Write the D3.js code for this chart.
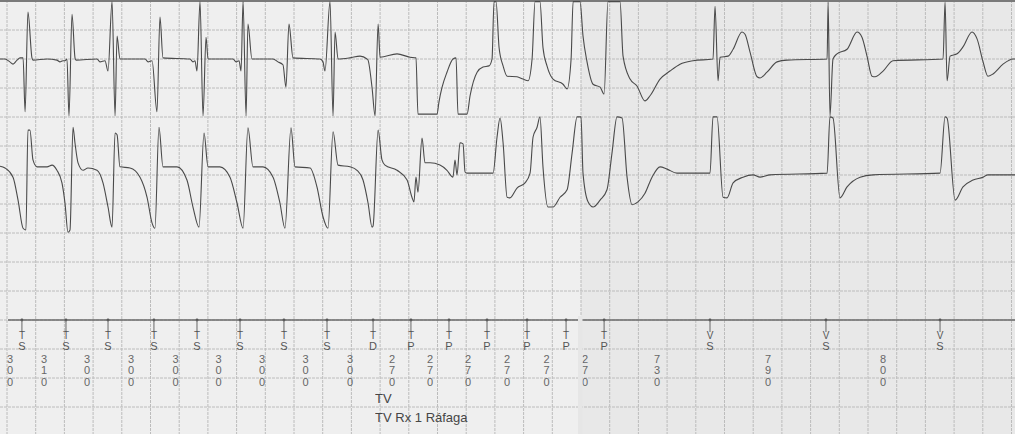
<!DOCTYPE html>
<meta charset="utf-8">
<style>
body { margin: 0; background: #eeeeee; }
svg { display: block; }
.grid line { stroke: #bcbcbc; stroke-width: 1; stroke-dasharray: 3,1; }
.trace { fill: none; stroke: #4a4a4a; stroke-width: 1.1; stroke-linejoin: round; }
.txt { opacity: 0.99; }
.mk text { font: 10px "Liberation Sans", Arial, sans-serif; fill: #555; text-anchor: middle; }
.iv text { font: 11px "Liberation Sans", Arial, sans-serif; fill: #666; text-anchor: middle; }
.note { font: 13px "Liberation Sans", Arial, sans-serif; fill: #444; }
</style>
<svg width="1015" height="434"></svg>
<script src="https://d3js.org/d3.v7.min.js"></script>
<script>
// marker channel (ms from strip start)
var markerTimes = [104, 411, 704, 1024, 1324, 1624, 1930, 2230, 2551, 2815, 3080, 3345, 3624, 3896, 4161, 4899, 5707, 6502];
var markerCodes = ["TS","TS","TS","TS","TS","TS","TS","TS","TD","TP","TP","TP","TP","TP","TP","VS","VS","VS"];
var intervals = [300, 310, 300, 300, 300, 300, 300, 300, 300, 270, 270, 270, 270, 270, 270, 730, 790, 800];
var notes = ["TV", "TV Rx 1 Ráfaga"];

// top channel [ms, mV]
var topTrace = [[-49,0],[-14,0],[20,-0.05],[42,-0.09],[70,-0.02],[91,0.02],[112,0.02],[126,-0.92],[146,0.82],[174,0.02],[181,-0.02],[279,0],[348,-0.02],[369,-0.05],[390,-0.03],[404,-0.03],[418,0],[432,-0.99],[453,0.78],[474,0.02],[481,-0.02],[627,0],[648,-0.05],[683,-0.03],[704,-0.21],[732,1.0],[753,-0.99],[767,0.40],[787,0],[962,0],[983,-0.05],[1011,-0.03],[1045,-0.92],[1066,0.73],[1087,0.02],[1275,0],[1296,-0.05],[1310,-0.03],[1324,-0.21],[1345,1.0],[1366,-0.99],[1387,0.38],[1401,0],[1575,0],[1596,-0.05],[1617,-0.03],[1631,-0.21],[1645,1.0],[1666,-0.99],[1679,0.61],[1707,0],[1854,0],[1888,-0.05],[1923,-0.1],[1944,-0.49],[1965,0.61],[1993,0.02],[2181,0],[2202,-0.05],[2216,-0.21],[2251,1.0],[2272,-0.99],[2286,0.47],[2307,0],[2390,0.02],[2460,0.05],[2509,0],[2516,-0.02],[2544,-0.5],[2565,-0.99],[2586,0.61],[2600,0.03],[2718,0.09],[2809,0.03],[2850,0.02],[2864,-0.96],[2997,-0.96],[3010,-0.75],[3031,-0.5],[3066,-0.23],[3108,0],[3129,0.02],[3143,-0.96],[3206,-0.96],[3227,-0.64],[3276,-0.23],[3317,-0.14],[3359,-0.12],[3380,0],[3394,1.0],[3408,1.0],[3429,0.2],[3457,-0.12],[3485,-0.30],[3554,-0.31],[3596,-0.35],[3631,-0.38],[3659,0],[3680,1.0],[3714,1.0],[3735,0.2],[3763,-0.12],[3805,-0.35],[3875,-0.44],[3903,-0.52],[3931,0],[3945,1.0],[3993,1.0],[4014,0.4],[4042,-0.05],[4084,-0.44],[4133,-0.49],[4161,-0.61],[4188,1.0],[4272,1.0],[4293,0.05],[4342,-0.35],[4390,-0.47],[4446,-0.73],[4481,-0.64],[4551,-0.35],[4620,-0.21],[4690,-0.09],[4781,-0.03],[4920,0],[4934,0.92],[4955,-0.38],[4969,0.03],[5025,0.05],[5060,0.17],[5122,0.47],[5143,0.43],[5178,0.12],[5227,-0.31],[5248,-0.33],[5296,-0.23],[5366,-0.05],[5436,-0.02],[5715,0],[5722,0.99],[5735,-0.99],[5756,0],[5784,0.09],[5854,0.17],[5924,0.47],[5958,0.38],[5993,0.05],[6028,-0.30],[6049,-0.31],[6105,-0.21],[6174,-0.03],[6523,0],[6537,0.99],[6551,-0.38],[6572,0.05],[6621,0.09],[6662,0.21],[6725,0.47],[6760,0.35],[6802,-0.05],[6836,-0.30],[6871,-0.26],[6941,-0.09],[7011,0],[7030,0]];

// bottom channel [ms, mV]
var bottomTrace = [[-49,0.10],[-14,0.07],[42,-0.09],[77,-0.49],[112,-0.98],[132,-1.01],[146,0.73],[160,0.73],[181,0.21],[209,0.09],[279,0.09],[314,0.12],[348,0.03],[383,-0.19],[404,-0.54],[425,-1.05],[439,-1.01],[460,0.78],[474,0.50],[495,0.16],[530,0.03],[564,0.07],[627,0.03],[669,-0.19],[704,-0.61],[732,-0.96],[753,0.68],[767,0.65],[787,0.09],[857,0.07],[927,-0.09],[976,-0.44],[1011,-0.89],[1031,-0.98],[1059,0.78],[1087,0.09],[1185,0.09],[1254,-0.14],[1296,-0.61],[1338,-0.96],[1373,0.68],[1401,0.09],[1484,0.09],[1554,-0.09],[1603,-0.54],[1645,-0.98],[1679,0.77],[1714,0.09],[1784,0.09],[1854,-0.09],[1902,-0.54],[1937,-0.98],[1979,0.77],[2007,0.09],[2112,0.07],[2160,-0.26],[2202,-0.78],[2237,-0.98],[2272,0.70],[2307,0.12],[2390,0.09],[2439,0.03],[2481,-0.14],[2516,-0.54],[2544,-0.96],[2551,-0.94],[2586,0.73],[2613,0.21],[2634,0.12],[2718,0.03],[2788,-0.14],[2822,-0.44],[2836,-0.52],[2850,-0.09],[2864,-0.35],[2892,0.59],[2913,0.16],[2948,0.16],[3017,0.12],[3066,0.03],[3108,-0.09],[3122,0.21],[3136,-0.05],[3157,0.51],[3178,0.49],[3192,0],[3206,-0.02],[3387,-0.02],[3415,0.61],[3436,0.94],[3457,0.51],[3485,-0.44],[3505,-0.45],[3554,-0.28],[3610,-0.19],[3645,-0.02],[3666,0.61],[3694,0.78],[3714,0.96],[3735,0.09],[3770,-0.61],[3805,-0.61],[3854,-0.44],[3903,-0.31],[3938,0.33],[3973,0.96],[4000,0.96],[4014,-0.02],[4049,-0.52],[4084,-0.61],[4133,-0.49],[4181,-0.31],[4216,0.33],[4251,0.96],[4286,0.94],[4321,-0.09],[4356,-0.57],[4397,-0.52],[4446,-0.37],[4495,-0.09],[4551,0.09],[4600,0.05],[4669,-0.02],[4899,-0.02],[4920,0.96],[4948,0.96],[4990,-0.44],[5018,-0.45],[5060,-0.19],[5129,-0.09],[5199,-0.05],[5248,-0.09],[5317,-0.05],[5715,-0.02],[5735,0.96],[5756,0.94],[5805,-0.45],[5854,-0.26],[5945,-0.09],[6035,-0.05],[6502,-0.02],[6537,0.96],[6551,0.94],[6607,-0.49],[6662,-0.26],[6732,-0.14],[6802,-0.09],[6836,-0.05],[7030,-0.05]];

var width = 1015, height = 434;
var svg = d3.select("svg");

// 25 mm/s: one big box = 200 ms
var x = d3.scaleLinear().domain([0, 200]).range([7, 35.7]);
// paper in mm, one big box = 5 mm
var yPaper = d3.scaleLinear().domain([0, 5]).range([30, 59]);
// 10 mm/mV
var yTop = d3.scaleLinear().domain([0, 1]).range([yPaper(5), yPaper(5) - 57.4]);
var yBot = d3.scaleLinear().domain([0, 1]).range([172, 172 - 57.4]);
var tSeam = 4000;

// paper
svg.append("rect").attr("width", width).attr("height", height).attr("fill", "#efefef");
svg.append("rect").attr("x", x(tSeam)).attr("width", width - x(tSeam)).attr("height", height).attr("fill", "#e8e8e8");

var grid = svg.append("g").attr("class", "grid");
grid.selectAll(".v").data(d3.range(0, 7200, 200)).enter().append("line")
    .attr("x1", function(d) { return x(d); }).attr("x2", function(d) { return x(d); })
    .attr("y1", 0).attr("y2", height);
grid.selectAll(".h").data(d3.range(-5, 80, 5)).enter().append("line")
    .attr("x1", 0).attr("x2", width)
    .attr("y1", function(d) { return yPaper(d); }).attr("y2", function(d) { return yPaper(d); });

svg.append("line").attr("x1", 0).attr("x2", width).attr("y1", 1).attr("y2", 1)
    .attr("stroke", "#7a7a7a").attr("stroke-width", 2);

// traces
var lineTop = d3.line().x(function(d) { return x(d[0]); }).y(function(d) { return yTop(d[1]); }).curve(d3.curveMonotoneX);
var lineBot = d3.line().x(function(d) { return x(d[0]); }).y(function(d) { return yBot(d[1]); }).curve(d3.curveMonotoneX);
svg.append("path").attr("class", "trace").attr("d", lineTop(topTrace));
svg.append("path").attr("class", "trace").attr("d", lineBot(bottomTrace));

// marker channel
var my = yPaper(50);
svg.append("line").attr("x1", x(0) + 1).attr("x2", width).attr("y1", my).attr("y2", my)
    .attr("stroke", "#6a6a6a").attr("stroke-width", 1.6);

var mk = svg.append("g").attr("class", "mk txt").selectAll("g")
    .data(markerTimes).enter().append("g")
    .attr("transform", function(d) { return "translate(" + x(d) + "," + my + ")"; });
mk.append("circle").attr("r", 1.4).attr("fill", "#555");
mk.append("line").attr("y1", 0).attr("y2", 12).attr("stroke", "#666").attr("stroke-width", 1);
mk.append("text").attr("y", 19).text(function(d, i) { return markerCodes[i][0]; });
mk.append("text").attr("y", 30).style("font-size", "11px").text(function(d, i) { return markerCodes[i][1]; });

var iv = svg.append("g").attr("class", "iv txt").selectAll("g")
    .data(intervals).enter().append("g")
    .attr("transform", function(d, i) {
      var t = markerTimes[i] - d / 2;
      if (i > 0) t = (markerTimes[i - 1] + markerTimes[i]) / 2;
      return "translate(" + Math.max(10, x(t)) + "," + (my + 43) + ")";
    });
iv.selectAll("text").data(function(d) { return String(d).split(""); }).enter().append("text")
    .attr("y", function(d, i) { return i * 11.3; })
    .text(function(d) { return d; });

// paper seam over the marker area
svg.append("rect").attr("x", x(tSeam) - 3).attr("width", 4.5).attr("y", my - 4).attr("height", height - my + 4)
    .attr("fill", "#e6e6e6");

svg.append("g").attr("class", "txt").selectAll(".note").data(notes).enter().append("text").attr("class", "note")
    .attr("x", x(markerTimes[8]) + 2)
    .attr("y", function(d, i) { return 403 + i * 19; })
    .text(function(d) { return d; });
</script>
